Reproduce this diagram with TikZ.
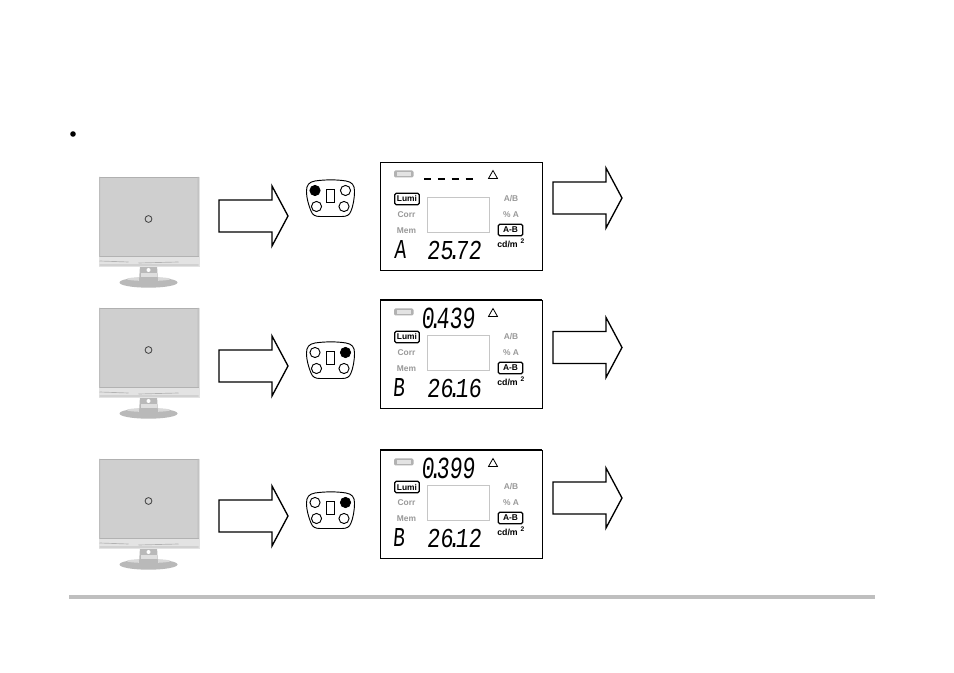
\documentclass[tikz,border=0pt]{standalone}
\usepackage{fontspec}
\setmainfont{Liberation Sans}
\newfontfamily\lcdfont[FakeSlant=0.12]{Liberation Mono}
\tikzset{
  px/.style={x=0.75pt,y=-0.75pt},
  blockarrow/.style={draw=black,line width=1pt,fill=white,line join=miter},
  lcdbox/.style={draw=black,line width=0.65pt,fill=white},
  lcdlabel/.style={font=\bfseries\fontsize{6.3}{6.3}\selectfont,text=gray!80,inner sep=0pt},
  lcdon/.style={font=\bfseries\fontsize{6.3}{6.3}\selectfont,text=black,inner sep=0pt},
  lcdframe/.style={draw=black,line width=0.95pt,rounded corners=1.2pt,fill=white,minimum width=18.5pt,minimum height=8.6pt,inner sep=0pt},
  digits/.style={font=\lcdfont\fontsize{20.5}{20.5}\selectfont,inner sep=0pt,xscale=0.8,text=black},
  topdigits/.style={font=\lcdfont\fontsize{23}{23}\selectfont,inner sep=0pt,xscale=0.7,text=black},
  modechar/.style={font=\lcdfont\fontsize{20.5}{20.5}\selectfont,inner sep=0pt,xscale=0.72,text=black},
  keyc/.style={circle,draw=black,line width=0.7pt,minimum size=7.6pt,inner sep=0pt},
  keyon/.style={keyc,fill=black},
}
\newcommand{\monitor}[2]{%
 \begin{scope}[shift={(#1,#2)}]
  \fill[gray!55] (0,105.5) ellipse[x radius=29,y radius=5.2];
  \fill[gray!30] (0,102) ellipse[x radius=22,y radius=2];
  \fill[gray!55] (-8.5,88)--(8.5,88)--(9.5,105)--(-9.5,105)--cycle;
  \fill[gray!25] (-8,96) rectangle (8,100);
  \fill[white] (0,93) circle (2);
  \fill[gray!22] (-50,0) rectangle (51,90);
  \fill[gray!38] (-49,1) rectangle (50,79);
  \fill[gray!62] (-49,0) rectangle (50,1.5);
  \fill[gray!52] (-49.5,0) rectangle (-48.3,80) (49,0) rectangle (50.2,80);
  \fill[gray!60] (-49,79) rectangle (50,80.3);
  \draw[gray!60,line width=.5pt] (-49,84)--(-20,85) (-10,86)--(30,85) (-49,88)--(50,88);
  \draw[black!75,line width=0.6pt] (0,42) circle (3.4);
 \end{scope}}
\newcommand{\barrow}[4]{% name,x(left),y(center),unused
 \path[blockarrow,draw] (#2,#3-16)--(#2+53,#3-16)--(#2+53,#3-30)--(#2+69,#3)--(#2+53,#3+30)--(#2+53,#3+16)--(#2,#3+16)--cycle;}
\newcommand{\keypad}[3]{% y offset, left state, right state
 \begin{scope}[shift={(0,#1)}]
  \draw[black,line width=0.7pt] (315,181) .. controls (325,179.5) and (337,179.5) .. (346,181)
     .. controls (352,182) and (354.5,185) .. (354.5,191)
     .. controls (354.5,199) and (353,206) .. (351,211)
     .. controls (349.5,215) and (347,216.5) .. (342,216.5)
     -- (320,216.5) .. controls (315,216.5) and (312.5,215) .. (311,211)
     .. controls (309,206) and (306.5,199) .. (306.5,191)
     .. controls (306.5,185) and (309,182) .. (315,181) -- cycle;
  \draw[black,line width=0.7pt] (326,189) rectangle (334,202);
  \node[#2] (kl#1) at (315,190.5) {};
  \node[#3] (kr#1) at (345.5,190.5) {};
  \node[keyc] (kbl#1) at (316.5,206.5) {};
  \node[keyc] (kbr#1) at (344,206.5) {};
 \end{scope}}
\newcommand{\lcd}[5]{% y offset, mode x, mode, reading, top reading
 \begin{scope}[shift={(0,#1)}]
  \draw[lcdbox] (380,162) rectangle (542,270);
  \fill[gray!60,rounded corners=1pt] (394,170.5) rectangle (413.5,177.5);
  \fill[gray!22] (396.5,172) rectangle (411,176);
  \draw[black,line width=0.6pt] (493,170.5)--(497.5,178.5)--(488.5,178.5)--cycle;
  \node[lcdframe] (lumi#1) at (407,199) {}; \node[lcdon] at (lumi#1) {Lumi};
  \node[lcdlabel] (corr#1) at (406.5,214.5) {Corr};
  \node[lcdlabel] (mem#1) at (406.5,230.5) {Mem};
  \node[lcdlabel] (ab#1) at (511,199) {A/B};
  \node[lcdlabel] (pct#1) at (511,214.5) {\% A};
  \node[lcdframe] (amb#1) at (510.5,230) {}; \node[lcdon] at (amb#1) {A-B};
  \node[lcdon,anchor=west,font=\bfseries\fontsize{6.6}{6.6}\selectfont] (unit#1) at (497,244) {cd/m};
  \node[lcdon,font=\bfseries\fontsize{5}{5}\selectfont] at (522.5,241) {2};
  \draw[gray!45,line width=0.6pt] (427.5,197) rectangle (489,232);
  \node[modechar] (mode#1) at (#2,249.5) {#3};
  \node[digits] (val#1) at (454,250) {#4};
  #5
 \end{scope}}
\newcommand{\dotkern}{\kern-.25em.\kern-.25em}
\begin{document}
\begin{tikzpicture}[px]
\useasboundingbox (0,0) rectangle (954,673);
\fill[white] (0,0) rectangle (954,673);
\node[circle,fill=black,minimum size=4.2pt,inner sep=0pt] (bullet) at (73,134) {};
\draw[gray!50,line width=2.4pt] (69,597)--(875,597);
\monitor{148.5}{177}\monitor{148.5}{308}\monitor{148.5}{459}
\barrow{a1}{219}{216}{}
\barrow{a2}{219}{366}{}
\barrow{a3}{219}{516}{}
\barrow{b1}{553}{198}{}
\barrow{b2}{553}{347.5}{}
\barrow{b3}{553}{498}{}
\keypad{0}{keyon}{keyc}
\keypad{162}{keyc}{keyon}
\keypad{312}{keyc}{keyon}
\lcd{0}{400}{A}{25\dotkern 72}{\draw[black,line width=1.5pt,dash pattern=on 5.2pt off 5.2pt] (424,179.5)--(473,179.5);}
\lcd{138}{398.5}{B}{26\dotkern 16}{\draw[black,line width=1.2pt] (380,162)--(542,162); \node[topdigits] (top138) at (448,180) {0\dotkern 439};}
\lcd{288}{398.5}{B}{26\dotkern 12}{\draw[black,line width=1.2pt] (380,162)--(542,162); \node[topdigits] (top288) at (448,180) {0\dotkern 399};}
\end{tikzpicture}
\end{document}
